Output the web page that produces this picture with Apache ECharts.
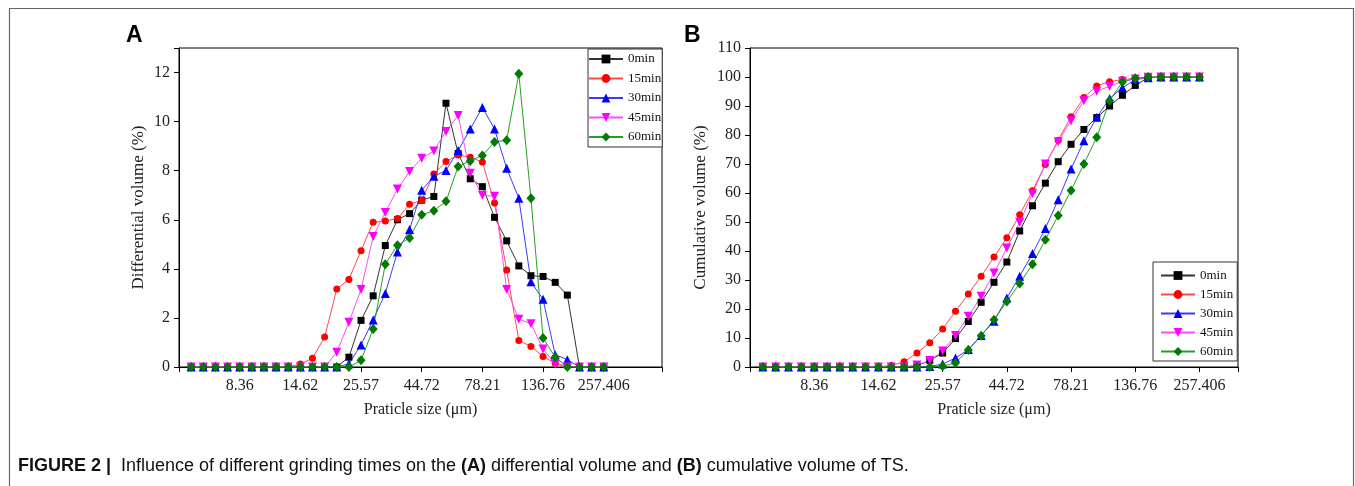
<!DOCTYPE html>
<html><head><meta charset="utf-8">
<script src="https://cdn.jsdelivr.net/npm/echarts@6/dist/echarts.min.js"></script>
<style>html,body{margin:0;padding:0;background:#fff}#c{width:1355px;height:486px}</style>
</head><body><div id="c"></div>
<script>
// ---- data ----
const seriesNames = ['0min', '15min', '30min', '45min', '60min'];
const tickLabels = ['8.36', '14.62', '25.57', '44.72', '78.21', '136.76', '257.406'];
const tickIndex = [4, 9, 14, 19, 24, 29, 34];

// Panel A: differential volume (%), 35 size classes
const diff0  = [0,0,0,0,0,0,0,0,0,0,0,0,0, 0.4,1.9,2.9,4.95,6.0,6.25,6.8,6.95,10.75,8.7,7.67,7.35,6.1,5.14,4.12,3.72,3.69,3.45,2.93,0,0,0];
const diff15 = [0,0,0,0,0,0,0,0,0, 0.12,0.36,1.22,3.18,3.57,4.74,5.9,5.95,6.05,6.63,6.8,7.87,8.37,8.64,8.55,8.35,6.68,3.95,1.08,0.84,0.43,0.15,0.03,0,0,0];
const diff30 = [0,0,0,0,0,0,0,0,0,0,0,0,0, 0.13,0.9,1.92,3.0,4.69,5.6,7.2,7.77,8.01,8.82,9.7,10.58,9.7,8.1,6.88,3.47,2.76,0.5,0.3,0,0,0];
const diff45 = [0,0,0,0,0,0,0,0,0,0,0,0, 0.6,1.82,3.16,5.32,6.3,7.25,7.97,8.51,8.8,9.6,10.25,7.9,7.0,6.96,3.16,1.95,1.76,0.73,0.12,0,0,0,0];
const diff60 = [0,0,0,0,0,0,0,0,0,0,0,0,0,0, 0.27,1.55,4.19,4.96,5.26,6.2,6.37,6.75,8.17,8.4,8.62,9.17,9.24,11.95,6.88,1.18,0.4,0,0,0,0];

// Panel B: cumulative volume (%)
const cum0  = [0,0,0,0,0,0,0,0,0,0,0,0, 0.4,2.3,4.8,9.8,15.7,22.3,29.2,36.2,46.9,55.6,63.4,70.8,76.8,81.9,86.0,90.0,93.7,97.1,99.8,100,100,100,100];
const cum15 = [0,0,0,0,0,0,0,0,0, 0.1,0.5,1.8,4.8,8.4,13.1,19.2,25.2,31.3,37.9,44.6,52.5,60.8,69.8,78.2,86.3,92.9,96.9,98.4,99.1,99.5,99.8,100,100,100,100];
const cum30 = [0,0,0,0,0,0,0,0,0,0,0,0,0, 0.2,1.0,3.1,6.0,10.9,15.8,23.8,31.3,39.1,47.8,57.7,68.3,78.0,86.1,92.6,96.3,99.1,99.7,100,100,100,100];
const cum45 = [0,0,0,0,0,0,0,0,0,0,0,0, 0.7,2.2,5.5,10.9,17.5,24.4,32.4,41.0,49.9,59.8,70.0,77.7,84.9,91.8,95.1,96.8,98.5,99.3,99.9,100,100,100,100];
const cum60 = [0,0,0,0,0,0,0,0,0,0,0,0,0,0, 0.3,1.4,5.9,10.8,16.3,22.6,28.8,35.4,43.9,52.2,60.9,70.0,79.2,91.8,98.3,99.6,100,100,100,100,100];

// ---- styles ----
const symbols = ['rect', 'circle', 'triangle', 'triangle', 'diamond'];
const rotates = [0, 0, 0, 180, 0];
const symSizes = [7, 7, 9, 9, [9, 10]];
const markerColors = ['#000000', '#ff0000', '#0000ff', '#ff00ff', '#007a00'];
const lineColors = ['#333333', '#ff4a4a', '#3a3aff', '#ff4aff', '#22a022'];
const SERIF = 'Liberation Serif';

function xLabel(v) {
  const r = Math.round(v);
  if (Math.abs(v - r) > 1e-6) return '';
  const k = tickIndex.indexOf(r - 1);
  return k >= 0 ? tickLabels[k] : '';
}

function mkSeries(arr, s, gi) {
  return {
    type: 'line', name: seriesNames[s], xAxisIndex: gi, yAxisIndex: gi,
    data: arr.map((v, i) => [i + 1, v]),
    symbol: symbols[s], symbolRotate: rotates[s], symbolSize: symSizes[s],
    showSymbol: true, showAllSymbol: true,
    itemStyle: { color: markerColors[s], borderWidth: 0 },
    lineStyle: { color: lineColors[s], width: 1 },
    emphasis: { disabled: true }, animation: false, silent: true
  };
}

function xAxisOf(gi, max) {
  return {
    type: 'value', gridIndex: gi, min: 0, max: max, interval: 5,
    splitLine: { show: false },
    axisLine: { lineStyle: { color: '#000', width: 1 } },
    axisTick: { inside: false, length: 5, lineStyle: { color: '#000' } },
    axisLabel: { formatter: xLabel, fontFamily: SERIF, fontSize: 16, color: '#222', margin: 11, showMinLabel: true, showMaxLabel: true },
    name: 'Praticle size (\u03bcm)', nameLocation: 'middle', nameGap: 35,
    nameTextStyle: { fontFamily: SERIF, fontSize: 16, color: '#222' }
  };
}
function yAxisOf(gi, max, interval, name, gap, fmt) {
  return {
    type: 'value', gridIndex: gi, min: 0, max: max, interval: interval,
    splitLine: { show: false },
    axisLine: { show: true, lineStyle: { color: '#000', width: 1 } },
    axisTick: { show: true, inside: false, length: 5, lineStyle: { color: '#000' } },
    axisLabel: { formatter: fmt, fontFamily: SERIF, fontSize: 16, color: '#222', margin: 9 },
    name: name, nameLocation: 'middle', nameGap: gap, nameRotate: 90,
    nameTextStyle: { fontFamily: SERIF, fontSize: 17, color: '#222' }
  };
}

const legendBase = {
  orient: 'vertical', data: seriesNames, itemWidth: 34, itemHeight: 11,
  borderColor: '#333', borderWidth: 1, backgroundColor: '#fff',
  textStyle: { fontFamily: SERIF, fontSize: 13, color: '#111' },
  selectedMode: false
};

const chart = echarts.init(document.getElementById('c'), null, { renderer: 'canvas' });
chart.setOption({
  animation: false,
  backgroundColor: '#fff',
  grid: [
    { left: 179, top: 48, width: 483, height: 319, show: true, borderColor: '#000', borderWidth: 1, containLabel: false },
    { left: 750, top: 48, width: 488, height: 319, show: true, borderColor: '#000', borderWidth: 1, containLabel: false }
  ],
  xAxis: [xAxisOf(0, 39.8), xAxisOf(1, 38)],
  yAxis: [
    yAxisOf(0, 13, 2, 'Differential volume (%)', 32, v => (v % 2 === 0 ? String(v) : '')),
    yAxisOf(1, 110, 10, 'Cumulative volume (%)', 41, v => String(v))
  ],
  legend: [
    Object.assign({}, legendBase, { left: 588, top: 49, itemGap: 6.5, padding: [3.5, 1, 3.5, 0] }),
    Object.assign({}, legendBase, { left: 1153, top: 262, itemGap: 6, padding: [7, 4, 3, 7] })
  ],
  series: [
    mkSeries(diff0, 0, 0), mkSeries(diff15, 1, 0), mkSeries(diff30, 2, 0), mkSeries(diff45, 3, 0), mkSeries(diff60, 4, 0),
    mkSeries(cum0, 0, 1), mkSeries(cum15, 1, 1), mkSeries(cum30, 2, 1), mkSeries(cum45, 3, 1), mkSeries(cum60, 4, 1)
  ],
  graphic: [
    { type: 'rect', silent: true, shape: { x: 9.5, y: 8.5, width: 1344, height: 500 },
      style: { fill: 'none', stroke: '#666', lineWidth: 1.2 } },
    { type: 'text', silent: true, x: 126, y: 36,
      style: { text: 'A', font: 'bold 23px "Liberation Sans"', fill: '#000', align: 'left', verticalAlign: 'middle' } },
    { type: 'text', silent: true, x: 684, y: 36,
      style: { text: 'B', font: 'bold 23px "Liberation Sans"', fill: '#000', align: 'left', verticalAlign: 'middle' } },
    { type: 'text', silent: true, x: 18, y: 466,
      style: {
        text: '{b|FIGURE 2 | } Influence of different grinding times on the {b|(A)} differential volume and {b|(B)} cumulative volume of TS.',
        fontFamily: 'Liberation Sans', fontSize: 18, fill: '#111', align: 'left', verticalAlign: 'middle',
        rich: { b: { fontFamily: 'Liberation Sans', fontSize: 18, fontWeight: 'bold', fill: '#111' } }
      } }
  ]
});
</script>
</body></html>
